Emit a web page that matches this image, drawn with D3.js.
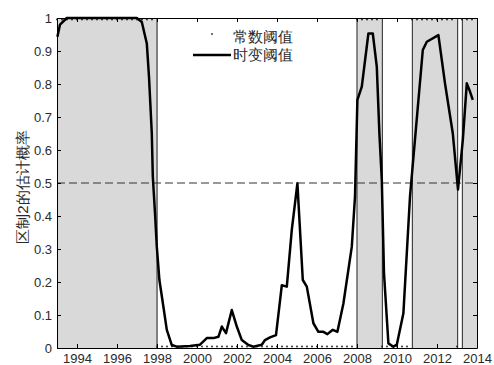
<!DOCTYPE html>
<html>
<head>
<meta charset="utf-8">
<script src="https://cdn.jsdelivr.net/npm/d3@7"></script>
<style>
  body { margin: 0; background: #fff; }
  text { font-family: Arial, "Liberation Sans", sans-serif; }
</style>
</head>
<body>
<svg width="494" height="365"></svg>
<script>
// time-varying threshold: [year, probability]
const tvYears = [1993.02, 1993.15, 1993.49, 1996.99, 1997.24, 1997.49, 1997.6, 1997.74, 1997.79, 1997.9,
  1997.99, 1998.12, 1998.32, 1998.49, 1998.74, 1998.99, 1999.65, 2000.15, 2000.32, 2000.49,
  2000.82, 2001.07, 2001.24, 2001.45, 2001.74, 2001.99, 2002.24, 2002.57, 2002.82, 2003.24,
  2003.4, 2003.65, 2003.95, 2004.24, 2004.49, 2004.74, 2005.02, 2005.29, 2005.49, 2005.82,
  2006.07, 2006.32, 2006.52, 2006.79, 2007.02, 2007.32, 2007.74, 2007.9, 2008.02, 2008.24,
  2008.57, 2008.79, 2008.99, 2009.12, 2009.24, 2009.35, 2009.57, 2009.82, 2009.99, 2010.32,
  2010.65, 2011.29, 2011.49, 2012.07, 2012.4, 2012.79, 2013.05, 2013.29, 2013.49, 2013.62, 2013.79];
const tvProb = [0.943, 0.98, 1.0, 1.0, 0.988, 0.923, 0.822, 0.65, 0.52, 0.409,
  0.307, 0.206, 0.125, 0.055, 0.009, 0.004, 0.006, 0.01, 0.02, 0.03,
  0.03, 0.034, 0.065, 0.045, 0.115, 0.065, 0.024, 0.009, 0.004, 0.01,
  0.024, 0.032, 0.039, 0.19, 0.186, 0.358, 0.499, 0.206, 0.186, 0.075,
  0.049, 0.049, 0.042, 0.055, 0.049, 0.135, 0.307, 0.459, 0.752, 0.792,
  0.953, 0.953, 0.852, 0.65, 0.51, 0.226, 0.014, 0.004, 0.01, 0.105,
  0.459, 0.903, 0.928, 0.948, 0.802, 0.65, 0.48, 0.63, 0.802, 0.782, 0.752];

// constant threshold, quarterly from 1993Q1
const conStart = 1993;
const conProb = [1,1,1,1, 1,1,1,1, 1,1,1,1, 1,1,1,1, 1,1,1,1,
  0,0,0,0, 0,0,0,0, 0,0,0,0, 0,0,0,0, 0,0,0,0,
  0,0,0,0, 0,0,0,0, 0,0,0,0, 0,0,0,0, 0,0,0,0,
  1,1,1,1, 1, 0,0,0, 0,0,0, 1,1,1, 1,1,1,1, 1,1, 0, 1,1,1];

// shaded regime-2 periods
const regimes = [[1993, 1998], [2008, 2009.27], [2010.77, 2013.03], [2013.27, 2014]];

const xTicks = [1994, 1996, 1998, 2000, 2002, 2004, 2006, 2008, 2010, 2012, 2014];
const yTicks = [0, 0.1, 0.2, 0.3, 0.4, 0.5, 0.6, 0.7, 0.8, 0.9, 1];

const svg = d3.select("svg");
const x = d3.scaleLinear().domain([1993, 2014]).range([57, 477]);
const y = d3.scaleLinear().domain([0, 1]).range([348, 18]);

// shading
svg.selectAll("rect.reg")
  .data(regimes)
  .enter()
  .append("rect")
  .attr("class", "reg")
  .attr("x", (d) => x(d[0]))
  .attr("y", y(1))
  .attr("width", (d) => x(d[1]) - x(d[0]))
  .attr("height", y(0) - y(1))
  .attr("fill", "#d9d9d9");

const edges = [];
regimes.forEach((d) => {
  if (d[0] > 1993) edges.push(d[0]);
  if (d[1] < 2014) edges.push(d[1]);
});
svg.selectAll("line.edge")
  .data(edges)
  .enter()
  .append("line")
  .attr("x1", (d) => x(d))
  .attr("x2", (d) => x(d))
  .attr("y1", y(1))
  .attr("y2", y(0))
  .attr("stroke", (d, i) => (i === 0 ? "#808080" : "#444"))
  .attr("stroke-width", (d, i) => (i === 0 ? 2 : 1.2));

// 0.5 dashed
svg.append("line")
  .attr("x1", x(1993)).attr("x2", x(2014))
  .attr("y1", y(0.5)).attr("y2", y(0.5))
  .attr("stroke", "#333")
  .attr("stroke-dasharray", "8,4");

// constant threshold dots
svg.selectAll("circle.con")
  .data(conProb)
  .enter()
  .append("circle")
  .attr("class", "con")
  .attr("cx", (d, i) => x(conStart + i / 4))
  .attr("cy", (d) => (d === 1 ? y(d) + 1.5 : y(d) - 1.5))
  .attr("r", 0.9)
  .attr("fill", "#222");

// time-varying line
const line = d3.line()
  .x((d) => x(d[0]))
  .y((d) => y(d[1]));
svg.append("path")
  .datum(tvYears.map((t, i) => [t, tvProb[i]]))
  .attr("d", line)
  .attr("fill", "none")
  .attr("stroke", "#000")
  .attr("stroke-width", 2.5)
  .attr("stroke-linejoin", "round");

// axes with inward ticks on all sides
const gBottom = svg.append("g").attr("transform", `translate(0,${y(0)})`)
  .call(d3.axisBottom(x).tickValues(xTicks).tickSizeInner(-4).tickSizeOuter(0).tickFormat(d3.format("d")));
const gTop = svg.append("g").attr("transform", `translate(0,${y(1)})`)
  .call(d3.axisTop(x).tickValues(xTicks).tickSizeInner(-4).tickSizeOuter(0).tickFormat(""));
const gLeft = svg.append("g").attr("transform", `translate(${x(1993)},0)`)
  .call(d3.axisLeft(y).tickValues(yTicks).tickSizeInner(-4).tickSizeOuter(0).tickFormat(d3.format("")));
const gRight = svg.append("g").attr("transform", `translate(${x(2014)},0)`)
  .call(d3.axisRight(y).tickValues(yTicks).tickSizeInner(-4).tickSizeOuter(0).tickFormat(""));

[gBottom, gTop, gLeft, gRight].forEach((g) => {
  g.select(".domain").attr("stroke", "#000");
  g.selectAll(".tick line").attr("stroke", "#000");
  g.selectAll("text").attr("font-size", 13).attr("fill", "#2a2a2a")
    .attr("font-family", "Arial, 'Liberation Sans', sans-serif");
});
gBottom.selectAll("text").attr("dy", null).attr("y", 15);
gLeft.selectAll("text").attr("x", -5);

// y label
svg.append("text")
  .attr("transform", "translate(28,187) rotate(-90)")
  .attr("text-anchor", "middle")
  .attr("font-size", 15)
  .attr("font-family", "'Noto Sans CJK SC', sans-serif")
  .attr("fill", "#2a2a2a")
  .text("区制2的估计概率");

// legend
const lg = svg.append("g");
lg.append("circle").attr("cx", 212).attr("cy", 34).attr("r", 1).attr("fill", "#444");
lg.append("text").attr("x", 233).attr("y", 42).attr("font-size", 15)
  .attr("font-family", "'Noto Sans CJK SC', sans-serif").attr("fill", "#2a2a2a").text("常数阈值");
lg.append("line").attr("x1", 193).attr("x2", 231).attr("y1", 55).attr("y2", 55)
  .attr("stroke", "#000").attr("stroke-width", 2.5);
lg.append("text").attr("x", 233).attr("y", 60).attr("font-size", 15)
  .attr("font-family", "'Noto Sans CJK SC', sans-serif").attr("fill", "#2a2a2a").text("时变阈值");
</script>
</body>
</html>
